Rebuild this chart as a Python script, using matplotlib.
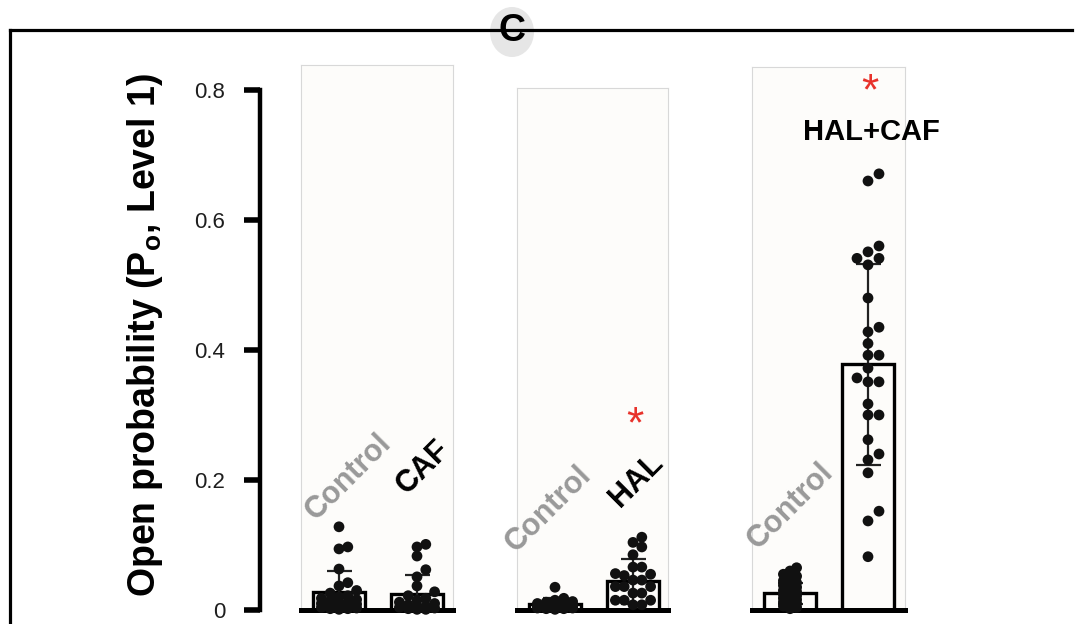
import numpy as np
import matplotlib.pyplot as plt
from matplotlib.patches import Ellipse
from matplotlib.lines import Line2D

plt.rcParams['font.family'] = ['Liberation Sans', 'DejaVu Sans']
plt.rcParams['mathtext.fontset'] = 'custom'
plt.rcParams['mathtext.rm'] = 'Liberation Sans'
plt.rcParams['mathtext.bf'] = 'Liberation Sans:bold'

# values
caf_control = [0.128, 0.097, 0.094, 0.063, 0.042, 0.037, 0.030, 0.026, 0.022, 0.020,
               0.018, 0.016, 0.014, 0.012, 0.011, 0.010, 0.009, 0.008, 0.006, 0.005,
               0.004, 0.003, 0.002, 0.002, 0.001]
caf = [0.101, 0.097, 0.083, 0.062, 0.051, 0.037, 0.028, 0.022, 0.018, 0.015,
       0.012, 0.010, 0.008, 0.006, 0.005, 0.004, 0.003, 0.002, 0.001, 0.001]
hal_control = [0.035, 0.018, 0.015, 0.013, 0.012, 0.010, 0.010, 0.009, 0.008, 0.008,
               0.007, 0.006, 0.006, 0.005, 0.005, 0.004, 0.004, 0.003, 0.003, 0.002,
               0.002, 0.001]
hal = [0.112, 0.104, 0.097, 0.085, 0.066, 0.066, 0.056, 0.055, 0.053, 0.046,
       0.046, 0.036, 0.036, 0.036, 0.026, 0.026, 0.015, 0.015, 0.015, 0.008, 0.008]
halcaf_control = [0.065, 0.060, 0.055, 0.052, 0.048, 0.045, 0.042, 0.040, 0.038, 0.035,
                  0.033, 0.030, 0.028, 0.026, 0.024, 0.022, 0.020, 0.018, 0.016, 0.014,
                  0.012, 0.010, 0.008, 0.006, 0.004, 0.002]
halcaf = [0.671, 0.660, 0.560, 0.551, 0.541, 0.541, 0.531, 0.480, 0.435, 0.428,
          0.410, 0.392, 0.392, 0.372, 0.357, 0.351, 0.351, 0.317, 0.300, 0.300,
          0.262, 0.240, 0.231, 0.211, 0.152, 0.137, 0.082]

panel_groups = [[caf_control, caf], [hal_control, hal], [halcaf_control, halcaf]]
panel_names = [['Control', 'CAF'], ['Control', 'HAL'], ['Control', 'HAL+CAF']]
bar_means = [[0.028, 0.024], [0.010, 0.044], [0.026, 0.378]]
bar_sds = [[0.032, 0.030], [0.008, 0.034], [0.016, 0.155]]
y_ticks = [0, 0.2, 0.4, 0.6, 0.8]
y_tick_labels = ['0', '0.2', '0.4', '0.6', '0.8']
ylabel = r'Open probability (P$_\mathbf{o}$, Level 1)'

# layout (pixels of the 1078x624 picture)
W, H = 1078, 624
Y0, PXV = 610, 650.0   # pixel row of value 0, pixels per unit value
PXX = 78.0             # pixels per bar slot
panels_px = [(301, 65, 453), (517, 88, 668), (752, 67, 905)]
swarm_gap = [[0.8, 0.8], [0.8, 0.8], [0.6, 1.0]]
swarm_halfwidth = [[24, 24], [24, 24], [11, 30]]
DOT = 11.0

def swarm(vals, gap, half):
    step = DOT * gap
    kmax = int(half // step)
    ks = [0]
    for k in range(1, kmax + 1):
        ks += [k, -k]
    placed = []
    offs = np.zeros(len(vals))
    for i in np.argsort(vals):
        y = vals[i] * PXV
        best, best_d = 0.0, -1.0
        for k in ks:
            x = k * step
            d = min([np.hypot(x - px, y - py) for px, py in placed] + [1e9])
            if d >= step:
                best = x
                break
            if d > best_d:
                best, best_d = x, d
        placed.append((best, y))
        offs[i] = best / PXX
    return offs

fig = plt.figure(figsize=(W / 100, H / 100), dpi=100)

# outer frame
fig.add_artist(Line2D([10 / W, 10 / W], [1 - 30 / H, 0], lw=2.3, color='black'))
fig.add_artist(Line2D([10 / W, 1072 / W], [1 - 30 / H, 1 - 30 / H], lw=2.3, color='black'))
fig.add_artist(Ellipse((512 / W, 1 - 32 / H), 44 / W, 50 / H, transform=fig.transFigure,
                       facecolor='#e6e6e6', edgecolor='none'))
fig.text(512 / W, 1 - 31 / H, 'C', ha='center', va='center', fontsize=27, weight='bold')

# y axis
ay = fig.add_axes([259.5 / W, 1 - Y0 / H, 0.0005, 0.8 * PXV / H])
ay.set_ylim(0, 0.8)
for s in ['top', 'right', 'bottom']:
    ay.spines[s].set_visible(False)
ay.spines['left'].set_linewidth(3.2)
ay.set_xticks([])
ay.set_yticks(y_ticks)
ay.set_yticklabels(y_tick_labels)
ay.tick_params(axis='y', length=11.5, width=4, pad=13, labelsize=16, labelcolor='#1e1e1e')
ay.patch.set_visible(False)
fig.text(145 / W, 1 - 335 / H, ylabel, rotation=90, ha='center', va='center',
         fontsize=27, weight='bold')

label_pos = [[(0.12, 0.205), (0.08, 0.22)], [(-0.08, 0.155), (0.05, 0.2)], [(0.0, 0.16), (0.04, 0.735)]]
stars = [None, 0.283, 0.795]

for p, (L, T, R) in enumerate(panels_px):
    ax = fig.add_axes([L / W, 1 - Y0 / H, (R - L) / W, (Y0 - T) / H])
    ax.set_ylim(0, (Y0 - T) / PXV)
    ax.set_xlim(-38 / PXX, (R - L - 38) / PXX)
    ax.set_facecolor('#fdfcfa')
    for s in ['top', 'right', 'left']:
        ax.spines[s].set_color('#d8d8d8')
        ax.spines[s].set_linewidth(0.8)
    ax.spines['bottom'].set_color('black')
    ax.spines['bottom'].set_linewidth(3.6)
    ax.set_xticks([])
    ax.set_yticks([])
    for g in range(2):
        vals = np.array(panel_groups[p][g])
        ax.bar(g, bar_means[p][g], width=52 / PXX, color='#fdfcfa', edgecolor='black',
               linewidth=2.4, zorder=2)
        ax.errorbar(g, bar_means[p][g], yerr=bar_sds[p][g], fmt='none', ecolor='#222222',
                    elinewidth=1.6, capsize=9, capthick=1.6, zorder=3)
        offs = swarm(vals, swarm_gap[p][g], swarm_halfwidth[p][g])
        ax.scatter(g + offs, vals, s=60, color='#111111', edgecolors='none', zorder=4,
                   clip_on=False)
        name = panel_names[p][g]
        lx, ly = label_pos[p][g]
        if name == 'HAL+CAF':
            ax.text(g + lx, ly, name, ha='center', va='center', fontsize=21, weight='bold')
        else:
            ax.text(g + lx, ly, name, ha='center', va='center', rotation=45,
                    rotation_mode='anchor', fontsize=22, weight='bold',
                    color='#999999' if name == 'Control' else 'black')
    if stars[p] is not None:
        ax.text(1.02, stars[p], '*', ha='center', va='center', fontsize=32,
                color='#e8322b')

fig.savefig('out.png', dpi=100)
